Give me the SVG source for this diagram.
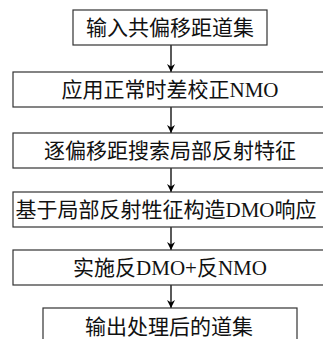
<svg xmlns="http://www.w3.org/2000/svg" width="323" height="339" viewBox="0 0 323 339">
<defs>
<style>
.box{fill:#fff;stroke:#333;stroke-width:1.2}
.lbl{font-family:"Liberation Serif","Noto Sans CJK SC",serif;font-size:21px;fill:#111;text-anchor:middle;dominant-baseline:central}
.conn{stroke:#000;stroke-width:1.3;fill:none}
</style>
<marker id="ah" viewBox="0 0 10 10" refX="10" refY="5" markerWidth="8" markerHeight="10" markerUnits="userSpaceOnUse" orient="auto">
<path d="M0,0 L10,5 L0,10 L3,5 Z" fill="#000"/>
</marker>
</defs>
<rect width="323" height="339" fill="#fff"/>
<g id="connectors">
<line class="conn" x1="171" y1="45" x2="171" y2="72" marker-end="url(#ah)"/>
<line class="conn" x1="171" y1="107" x2="171" y2="133" marker-end="url(#ah)"/>
<line class="conn" x1="171" y1="168" x2="171" y2="192" marker-end="url(#ah)"/>
<line class="conn" x1="171" y1="227" x2="171" y2="250" marker-end="url(#ah)"/>
<line class="conn" x1="171" y1="285" x2="171" y2="308" marker-end="url(#ah)"/>
</g>
<g id="n1"><rect class="box" x="73" y="10" width="194" height="35"/><text class="lbl" x="170" y="28">输入共偏移距道集</text></g>
<g id="n2"><rect class="box" x="13" y="72" width="312" height="35"/><text class="lbl" x="170" y="90">应用正常时差校正NMO</text></g>
<g id="n3"><rect class="box" x="13" y="133" width="312" height="35"/><text class="lbl" x="170" y="151">逐偏移距搜索局部反射特征</text></g>
<g id="n4"><rect class="box" x="13" y="192" width="312" height="35"/><text class="lbl" x="166" y="210">基于局部反射牲征构造DMO响应</text></g>
<g id="n5"><rect class="box" x="13" y="250" width="312" height="35"/><text class="lbl" x="170" y="268">实施反DMO+反NMO</text></g>
<g id="n6"><rect class="box" x="43" y="308" width="254" height="40"/><text class="lbl" x="169" y="327">输出处理后的道集</text></g>
</svg>
